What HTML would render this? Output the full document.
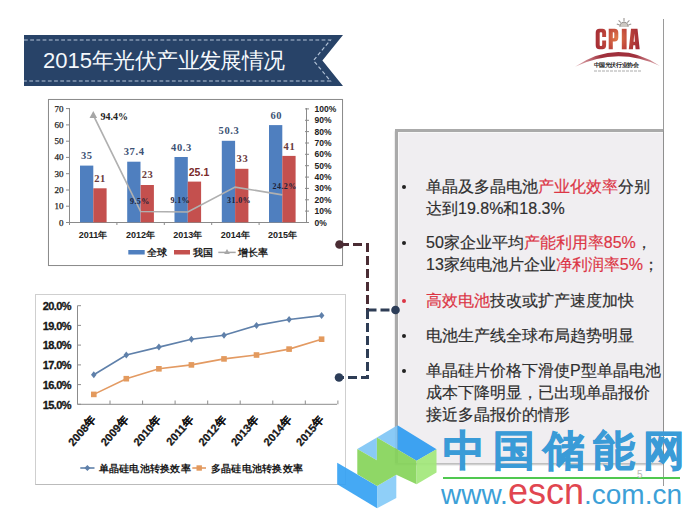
<!DOCTYPE html>
<html><head><meta charset="utf-8">
<style>
html,body{margin:0;padding:0;}
body{width:689px;height:515px;background:#fff;position:relative;overflow:hidden;font-family:"Liberation Sans",sans-serif;}
.abs{position:absolute;}
svg{position:absolute;left:0;top:0;}
.bl{position:absolute;left:0;white-space:nowrap;font-size:16px;color:#2f2f2f;line-height:22px;-webkit-text-stroke:0.18px currentColor;}
.r{color:#dc3545;}
.dot{position:absolute;left:402px;width:4px;height:4px;border-radius:2px;background:#222;}
</style></head><body>

<div class="abs" style="left:663px;top:19px;width:1px;height:467px;background:#9a9a9a"></div>
<svg width="689" height="515" viewBox="0 0 689 515">
  <polygon points="24,35 343,35 322.4,60.5 343,86 24,86" fill="#284368"/>
  <path d="M24,40 H330.5 L313.5,60.5 L330.5,81 H24" fill="none" stroke="#b4c4d8" stroke-width="1.15" stroke-dasharray="3.8 2.4"/>
</svg>
<div class="abs" style="left:43px;top:45.5px;font-size:22px;color:#f4f8fc;line-height:30px;white-space:nowrap">2015<span style="letter-spacing:-0.6px">年光伏产业发展情况</span></div>

<svg width="689" height="515" viewBox="0 0 689 515">
<defs>
<radialGradient id="cg" cx="617" cy="38" r="24" gradientUnits="userSpaceOnUse">
<stop offset="0" stop-color="#e07a48"/><stop offset="0.45" stop-color="#c24a3c"/><stop offset="1" stop-color="#a02834"/>
</radialGradient>
<linearGradient id="ag" x1="575" y1="0" x2="661" y2="0" gradientUnits="userSpaceOnUse">
<stop offset="0" stop-color="#c87880" stop-opacity="0.6"/><stop offset="0.3" stop-color="#a0303c"/><stop offset="0.7" stop-color="#a0303c"/><stop offset="1" stop-color="#c87880" stop-opacity="0.6"/>
</linearGradient>
</defs>
<g fill="url(#cg)">
<path fill-rule="evenodd" d="M599.5,28.8 H602.3 Q606.1,28.8 606.1,32.8 V37 H602.2 V33 Q602.2,32.2 601.2,32.2 H600.6 Q599.7,32.2 599.7,33 V45 Q599.7,45.9 600.6,45.9 H601.2 Q602.2,45.9 602.2,45 V40.5 H606.1 V45.3 Q606.1,49.3 602.3,49.3 H599.5 Q595.7,49.3 595.7,45.3 V32.8 Q595.7,28.8 599.5,28.8 Z"/>
<path fill-rule="evenodd" d="M608.7,28.8 H614.5 Q618.3,28.8 618.3,32.8 V37.5 Q618.3,41.5 614.5,41.5 H612.8 V49.3 H608.7 Z M612.8,32.2 V38.2 H613.4 Q614.3,38.2 614.3,37.3 V33.1 Q614.3,32.2 613.4,32.2 Z"/>
<rect x="621.8" y="28.8" width="4.8" height="20.5"/>
<path fill-rule="evenodd" d="M631,28.8 H637.5 L639.7,49.3 H635.6 L635.2,45.2 H633.3 L632.9,49.3 H628.8 Z M633.6,41.8 H634.9 L634.3,33.5 Z"/>
</g>
<path d="M619.5,27 A4.5,4.5 0 0 1 628.5,27 Z" fill="#b8b0a8" opacity="0.7"/>
<g stroke="#7a7470" stroke-width="1.1" fill="none" opacity="0.75">
<path d="M619.8,26.5 A4.2,4.2 0 0 1 628.2,26.5"/>
<path d="M624,21.5 V18 M620.8,22.6 L618.6,20.4 M627.2,22.6 L629.4,20.4 M619.6,25 L616.8,24 M628.4,25 L631.2,24"/>
</g>
<path d="M575,66.8 Q618,37.7 660,66 Q618,46.1 575,66.8 Z" fill="url(#ag)"/>
</svg>
<div class="abs" style="left:593.5px;top:61.3px;font-size:6.4px;font-weight:bold;color:#252525;line-height:7px;white-space:nowrap;letter-spacing:-0.4px">中国光伏行业协会</div>
<div class="abs" style="left:594px;top:69.5px;width:47px;height:2.2px;background:repeating-linear-gradient(90deg,#a0a0a0 0 3px,#fff 3px 4px);opacity:0.45"></div>
<div class="abs" style="left:48px;top:99px;width:293px;height:165px;border:1.5px solid #8c8c8c;background:#fff;box-shadow:0 0 0.6px rgba(0,0,0,0.35)"></div>
<div class="abs" style="left:35px;top:294px;width:309px;height:189px;border:1px solid #cfcfcf;border-bottom:1.5px solid #bbb;background:#fff"></div>
<svg width="689" height="515" viewBox="0 0 689 515">
<g stroke="#8a8a8a" stroke-width="1" fill="none">
<path d="M69.5,108 V222.5 H306.5 V108"/>
<path d="M66,222.5 H69"/>
<path d="M66,206.2 H69"/>
<path d="M66,190.0 H69"/>
<path d="M66,173.7 H69"/>
<path d="M66,157.4 H69"/>
<path d="M66,141.2 H69"/>
<path d="M66,124.9 H69"/>
<path d="M66,108.6 H69"/>
<path d="M305,222.5 H309"/>
<path d="M305,211.1 H309"/>
<path d="M305,199.8 H309"/>
<path d="M305,188.4 H309"/>
<path d="M305,177.1 H309"/>
<path d="M305,165.7 H309"/>
<path d="M305,154.3 H309"/>
<path d="M305,143.0 H309"/>
<path d="M305,131.6 H309"/>
<path d="M305,120.3 H309"/>
<path d="M305,108.9 H309"/>
<path d="M69.5,222 V225"/>
<path d="M116.9,222 V225"/>
<path d="M164.3,222 V225"/>
<path d="M211.7,222 V225"/>
<path d="M259.1,222 V225"/>
</g>
<rect x="80.0" y="165.6" width="13.3" height="56.7" fill="#4f7fbf"/>
<rect x="93.3" y="188.3" width="13.3" height="34.0" fill="#c4504e"/>
<rect x="127.2" y="161.7" width="13.3" height="60.6" fill="#4f7fbf"/>
<rect x="140.6" y="185.0" width="13.3" height="37.3" fill="#c4504e"/>
<rect x="174.5" y="157.0" width="13.3" height="65.3" fill="#4f7fbf"/>
<rect x="187.8" y="181.6" width="13.3" height="40.7" fill="#c4504e"/>
<rect x="221.8" y="140.8" width="13.3" height="81.5" fill="#4f7fbf"/>
<rect x="235.1" y="168.8" width="13.3" height="53.5" fill="#c4504e"/>
<rect x="269.0" y="125.1" width="13.3" height="97.2" fill="#4f7fbf"/>
<rect x="282.3" y="155.9" width="13.3" height="66.4" fill="#c4504e"/>
<polyline points="93.3,115.1 140.6,211.5 187.8,212.0 235.1,187.1 282.3,194.8" fill="none" stroke="#b0b0b0" stroke-width="1.7"/>
<polygon points="93.3,111.1 97.1,117.9 89.5,117.9" fill="#a6a6a6"/>
<g font-family="Liberation Serif" font-size="9" fill="#222" stroke="#222" stroke-width="0.25" text-anchor="end">
<text x="63.5" y="225.5">0</text>
<text x="63.5" y="209.2">10</text>
<text x="63.5" y="193.0">20</text>
<text x="63.5" y="176.7">30</text>
<text x="63.5" y="160.4">40</text>
<text x="63.5" y="144.2">50</text>
<text x="63.5" y="127.9">60</text>
<text x="63.5" y="111.6">70</text>
</g>
<g font-family="Liberation Sans" font-weight="bold" font-size="8.5" fill="#222">
<text x="314.5" y="225.5">0%</text>
<text x="314.5" y="214.1">10%</text>
<text x="314.5" y="202.8">20%</text>
<text x="314.5" y="191.4">30%</text>
<text x="314.5" y="180.1">40%</text>
<text x="314.5" y="168.7">50%</text>
<text x="314.5" y="157.3">60%</text>
<text x="314.5" y="146.0">70%</text>
<text x="314.5" y="134.6">80%</text>
<text x="314.5" y="123.3">90%</text>
<text x="314.5" y="111.9">100%</text>
</g>
<g font-family="Liberation Sans" font-weight="bold" font-size="9" fill="#222" text-anchor="middle">
<text x="93.0" y="238">2011年</text>
<text x="140.4" y="238">2012年</text>
<text x="187.8" y="238">2013年</text>
<text x="235.2" y="238">2014年</text>
<text x="282.6" y="238">2015年</text>
</g>
<g font-family="Liberation Serif" font-weight="bold" font-size="10.5" fill="#3d5274" text-anchor="middle">
<text x="86.75" y="159.2" letter-spacing="0.6">35</text>
<text x="134.1" y="155.3" letter-spacing="0.6">37.4</text>
<text x="181.5" y="150.6" letter-spacing="0.6">40.3</text>
<text x="229" y="134.2" letter-spacing="0.6">50.3</text>
<text x="276.3" y="118.8" letter-spacing="0.6">60</text>
</g>
<g font-family="Liberation Serif" font-weight="bold" font-size="10.5" fill="#6a3a3c" text-anchor="middle">
<text x="100" y="182.3" letter-spacing="0.6">21</text>
<text x="147.6" y="178.3" letter-spacing="0.6">23</text>
<text x="242.4" y="162" letter-spacing="0.6">33</text>
<text x="289.4" y="150.2" letter-spacing="0.6">41</text>
</g>
<text x="199" y="176" font-family="Liberation Sans" font-weight="bold" font-size="10.5" fill="#7a2a2a" text-anchor="middle">25.1</text>
<text x="100.5" y="119.5" font-family="Liberation Serif" font-weight="bold" font-size="10" fill="#222">94.4%</text>
<g font-family="Liberation Serif" font-weight="bold" font-size="8" fill="#1e2238" text-anchor="middle" letter-spacing="0.4">
<text x="139.8" y="203.5">9.5%</text>
<text x="180.2" y="203.2">9.1%</text>
<text x="239" y="203.3">31.0%</text>
<text x="284.6" y="189">24.2%</text>
</g>
<rect x="128.3" y="250" width="16.4" height="4.5" fill="#4f7fbf"/>
<rect x="174" y="250" width="16" height="4.5" fill="#c4504e"/>
<path d="M218.3,252.4 H235.7" stroke="#a6a6a6" stroke-width="1.5"/>
<polygon points="227,249 229.8,254 224.2,254" fill="#a6a6a6"/>
<g font-family="Liberation Serif" font-weight="bold" font-size="9.5" fill="#222">
<text x="147.2" y="256">全球</text><text x="193" y="256">我国</text><text x="238.4" y="256">增长率</text>
</g>
</svg>
<svg width="689" height="515" viewBox="0 0 689 515">
<g stroke="#8c8c8c" stroke-width="1" fill="none">
<path d="M77.5,305.7 V404.3 H337"/>
<path d="M77.5,404.3 H81.0"/>
<path d="M77.5,384.6 H81.0"/>
<path d="M77.5,364.9 H81.0"/>
<path d="M77.5,345.1 H81.0"/>
<path d="M77.5,325.4 H81.0"/>
<path d="M77.5,305.7 H81.0"/>
<path d="M110.0,404.3 V400.5"/>
<path d="M142.6,404.3 V400.5"/>
<path d="M175.1,404.3 V400.5"/>
<path d="M207.7,404.3 V400.5"/>
<path d="M240.2,404.3 V400.5"/>
<path d="M272.8,404.3 V400.5"/>
<path d="M305.3,404.3 V400.5"/>
<path d="M337.9,404.3 V400.5"/>
</g>
<polyline points="93.8,374.7 126.3,355.0 158.9,347.1 191.4,339.2 224.0,335.3 256.5,325.4 289.1,319.5 321.6,315.6" fill="none" stroke="#5f80aa" stroke-width="1.6"/>
<polyline points="93.8,394.4 126.3,378.7 158.9,368.8 191.4,364.9 224.0,358.9 256.5,355.0 289.1,349.1 321.6,339.2" fill="none" stroke="#e39a62" stroke-width="1.6"/>
<polygon points="93.8,371.2 96.6,374.7 93.8,378.2 91.0,374.7" fill="#5f80aa"/>
<rect x="91.0" y="391.6" width="5.6" height="5.6" fill="#e39a5e"/>
<polygon points="126.3,351.5 129.1,355.0 126.3,358.5 123.5,355.0" fill="#5f80aa"/>
<rect x="123.5" y="375.9" width="5.6" height="5.6" fill="#e39a5e"/>
<polygon points="158.9,343.6 161.7,347.1 158.9,350.6 156.1,347.1" fill="#5f80aa"/>
<rect x="156.1" y="366.0" width="5.6" height="5.6" fill="#e39a5e"/>
<polygon points="191.4,335.7 194.2,339.2 191.4,342.7 188.6,339.2" fill="#5f80aa"/>
<rect x="188.6" y="362.1" width="5.6" height="5.6" fill="#e39a5e"/>
<polygon points="224.0,331.8 226.8,335.3 224.0,338.8 221.2,335.3" fill="#5f80aa"/>
<rect x="221.2" y="356.1" width="5.6" height="5.6" fill="#e39a5e"/>
<polygon points="256.5,321.9 259.3,325.4 256.5,328.9 253.7,325.4" fill="#5f80aa"/>
<rect x="253.7" y="352.2" width="5.6" height="5.6" fill="#e39a5e"/>
<polygon points="289.1,316.0 291.9,319.5 289.1,323.0 286.3,319.5" fill="#5f80aa"/>
<rect x="286.3" y="346.3" width="5.6" height="5.6" fill="#e39a5e"/>
<polygon points="321.6,312.1 324.4,315.6 321.6,319.1 318.8,315.6" fill="#5f80aa"/>
<rect x="318.8" y="336.4" width="5.6" height="5.6" fill="#e39a5e"/>
<g font-family="Liberation Sans" font-weight="bold" font-size="11" fill="#161616" stroke="#161616" stroke-width="0.3" text-anchor="end" letter-spacing="-0.6">
<text x="71" y="408.5">15.0%</text>
<text x="71" y="388.8">16.0%</text>
<text x="71" y="369.1">17.0%</text>
<text x="71" y="349.3">18.0%</text>
<text x="71" y="329.6">19.0%</text>
<text x="71" y="309.9">20.0%</text>
</g>
<g font-family="Liberation Sans" font-weight="bold" font-size="11" fill="#161616" stroke="#161616" stroke-width="0.25" text-anchor="end">
<text x="96.6" y="420" transform="rotate(-49 96.6 420)">2008年</text>
<text x="129.1" y="420" transform="rotate(-49 129.1 420)">2009年</text>
<text x="161.7" y="420" transform="rotate(-49 161.7 420)">2010年</text>
<text x="194.2" y="420" transform="rotate(-49 194.2 420)">2011年</text>
<text x="226.8" y="420" transform="rotate(-49 226.8 420)">2012年</text>
<text x="259.3" y="420" transform="rotate(-49 259.3 420)">2013年</text>
<text x="291.9" y="420" transform="rotate(-49 291.9 420)">2014年</text>
<text x="324.4" y="420" transform="rotate(-49 324.4 420)">2015年</text>
</g>
<path d="M80.3,468 H94.5" stroke="#5f80aa" stroke-width="1.6"/>
<polygon points="87.4,465 90.4,468 87.4,471 84.4,468" fill="#5f80aa"/>
<path d="M192.3,468 H206" stroke="#e39a62" stroke-width="1.6"/>
<rect x="196.5" y="465.3" width="5.4" height="5.4" fill="#e39a5e"/>
<g font-family="Liberation Serif" font-weight="bold" font-size="10" fill="#1a1a1a" letter-spacing="0.25">
<text x="98.6" y="471.8">单晶硅电池转换效率</text><text x="210.9" y="471.8">多晶硅电池转换效率</text>
</g>
</svg>
<div class="abs" style="left:395px;top:129px;width:268px;height:334px;background:#f0eef1;border-top:3px solid #aaaaaa;border-left:3px solid #aaaaaa;box-sizing:border-box;box-shadow:-0.5px -0.5px 1px rgba(0,0,0,0.12), 0 2px 1.5px rgba(0,0,0,0.25), inset 1px 1px 0 #f8f8f8"></div>

<div class="dot" style="top:185px"></div>
<div class="bl" style="left:426px;top:176px">单晶及多晶电池<span class="r">产业化效率</span>分别</div>
<div class="bl" style="left:426px;top:198px">达到19.8%和18.3%</div>
<div class="dot" style="top:241px"></div>
<div class="bl" style="left:426px;top:232px">50家企业平均<span class="r">产能利用率85%</span>，</div>
<div class="bl" style="left:426px;top:254px">13家纯电池片企业<span class="r">净利润率5%</span>；</div>
<div class="dot" style="top:299px;background:#dc3545"></div>
<div class="bl" style="left:426px;top:290px"><span class="r">高效电池</span>技改或扩产速度加快</div>
<div class="dot" style="top:334px"></div>
<div class="bl" style="left:426px;top:325px">电池生产线全球布局趋势明显</div>
<div class="dot" style="top:369px"></div>
<div class="bl" style="left:426px;top:360px">单晶硅片价格下滑使P型单晶电池</div>
<div class="bl" style="left:426px;top:382px">成本下降明显，已出现单晶报价</div>
<div class="bl" style="left:426px;top:404px">接近多晶报价的情形</div>

<svg width="689" height="515" viewBox="0 0 689 515">
  <path d="M340,244.5 H367.5 V310" fill="none" stroke="#4a2c34" stroke-width="3" stroke-dasharray="9 4"/>
  <path d="M367.5,310 V377.5 H340 M367.5,310 H395" fill="none" stroke="#2e3d55" stroke-width="3" stroke-dasharray="9 4"/>
  <circle cx="339.5" cy="244.5" r="4.3" fill="#4a2c34"/>
  <circle cx="395.5" cy="310" r="4.3" fill="#2c3d58"/>
  <circle cx="339" cy="377.5" r="4.3" fill="#2c3d58"/>
</svg>

<svg width="689" height="515" viewBox="0 0 689 515">
<g opacity="0.92">
  <polygon points="337.2,462.8 377.1,486 377.1,508.3 337.2,484.3" fill="#36a2f4"/>
  <polygon points="377.1,486 396.3,474.8 396.3,497.9 377.1,508.3" fill="#86cbf8"/>
  <polygon points="357.3,449.1 376.9,437.5 376.9,460.3" fill="#80c6f6"/>
  <polygon points="376.9,437.5 397.5,425.3 397.5,449.5" fill="#80c6f6"/>
  <polygon points="397.5,425.3 436.5,449.2 416.6,460.8 397.5,449.5" fill="#2e9cf2"/>
  <polygon points="357.3,449.1 376.9,460.3 376.9,437.5 416.6,460.8 416.6,484.3 396.3,474.8 377.1,486 357.3,474.3" fill="#86d45a"/>
  <polygon points="416.6,460.8 436.5,449.2 436.5,472.4 416.6,484.3" fill="#a2e87a"/>
</g>
</svg>
<div class="abs" style="left:443px;top:421px;font-size:42px;font-weight:700;-webkit-text-stroke:0.8px #3a9bd7;color:#3a9bd7;line-height:60px;letter-spacing:8px;white-space:nowrap">中国储能网</div>
<div class="abs" style="left:443px;top:476.5px;width:237px;height:2.5px;background:#50c850"></div>
<div class="abs" style="left:441px;top:472px;font-size:28px;color:#3ca0d7;line-height:40px;white-space:nowrap">www.<span style="color:#e14650;font-size:36px">escn</span>.com.cn</div>
<div class="abs" style="left:637px;top:469px;font-size:10px;color:#b8b8b8;line-height:12px">5</div>
</body></html>
